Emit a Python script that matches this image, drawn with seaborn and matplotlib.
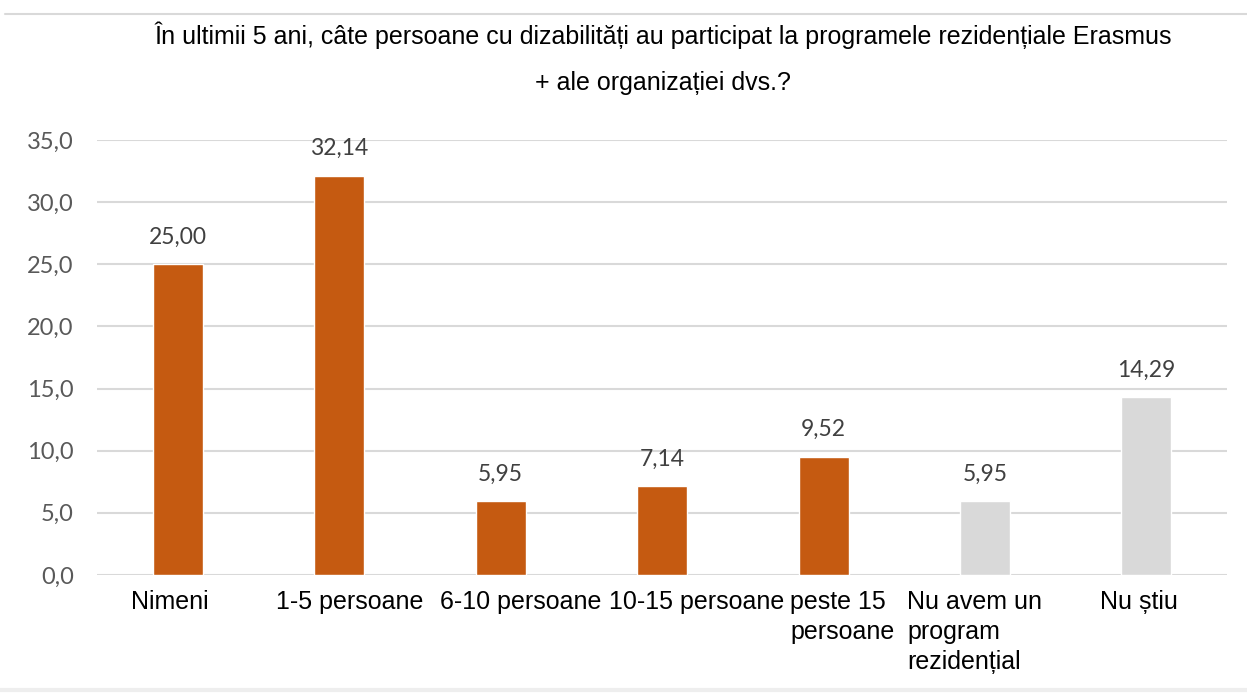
import matplotlib
matplotlib.use("Agg")
import matplotlib.pyplot as plt
import matplotlib.transforms as mtransforms
import seaborn as sns
import pandas as pd
from matplotlib.lines import Line2D

categories = ["Nimeni", "1-5 persoane", "6-10 persoane", "10-15 persoane",
              "peste 15\npersoane", "Nu avem un\nprogram\nrezidențial", "Nu știu"]
values = [25.00, 32.14, 5.95, 7.14, 9.52, 5.95, 14.29]
value_labels = ["25,00", "32,14", "5,95", "7,14", "9,52", "5,95", "14,29"]
yticks = [0, 5, 10, 15, 20, 25, 30, 35]
ytick_labels = ["0,0", "5,0", "10,0", "15,0", "20,0", "25,0", "30,0", "35,0"]
colors = ["#C55A11"] * 5 + ["#D9D9D9"] * 2
title1 = "În ultimii 5 ani, câte persoane cu dizabilități au participat la programele rezidențiale Erasmus"
title2 = "+ ale organizației dvs.?"

sns.set_theme(style="white")
plt.rcParams['font.family'] = ["Liberation Sans", "DejaVu Sans"]

fig = plt.figure(figsize=(12.47, 7.0), dpi=100)
ax = fig.add_axes([0.078, 0.1786, 0.906, 0.6214])

df = pd.DataFrame({"cat": categories, "val": values})
sns.barplot(data=df, x="cat", y="val", hue="cat", palette=colors, legend=False,
            width=0.31, ax=ax, saturation=1)

ax.set_ylim(0, 35)
ax.set_xlim(-0.5, len(categories) - 0.5)
ax.set_yticks(yticks)
ax.set_yticklabels(ytick_labels, family=["Lato", "DejaVu Sans"], fontsize=17, color="#595959")
ax.grid(axis="y", color="#D9D9D9", lw=1.5)
ax.set_axisbelow(True)
for s in ax.spines.values():
    s.set_visible(False)
ax.tick_params(axis="y", length=0, pad=17)
ax.tick_params(axis="x", length=0, pad=11)
ax.set_xlabel("")
ax.set_ylabel("")
ax.set_xticks(range(len(categories)))
ax.set_xticklabels(categories, fontsize=18, color="black", va="top")
label_shift_px = [-8, 10, 20, 34, 19, -10, -7]
for lbl, dx in zip(ax.get_xticklabels(), label_shift_px):
    lbl.set_multialignment("left")
    lbl.set_linespacing(1.3)
    lbl.set_transform(lbl.get_transform() +
                      mtransforms.ScaledTranslation(dx / 100, 0, fig.dpi_scale_trans))

for p, txt in zip(ax.patches, value_labels):
    ax.annotate(txt, (p.get_x() + p.get_width() / 2, p.get_height()),
                xytext=(0, 12), textcoords="offset points", ha="center", va="bottom",
                family=["Lato", "DejaVu Sans"], fontsize=16.5, color="#404040")

fig.text(0.532, 0.949, title1, ha="center", va="center", fontsize=18, color="black")
fig.text(0.532, 0.882, title2, ha="center", va="center", fontsize=18, color="black")

fig.add_artist(Line2D([0.004, 1.0], [0.98, 0.98], transform=fig.transFigure,
                      color="#D9D9D9", lw=1.5))
fig.add_artist(Line2D([0.0, 1.0], [0.014, 0.014], transform=fig.transFigure,
                      color="#EEEEEE", lw=3))

fig.savefig("out.png", dpi=100)
